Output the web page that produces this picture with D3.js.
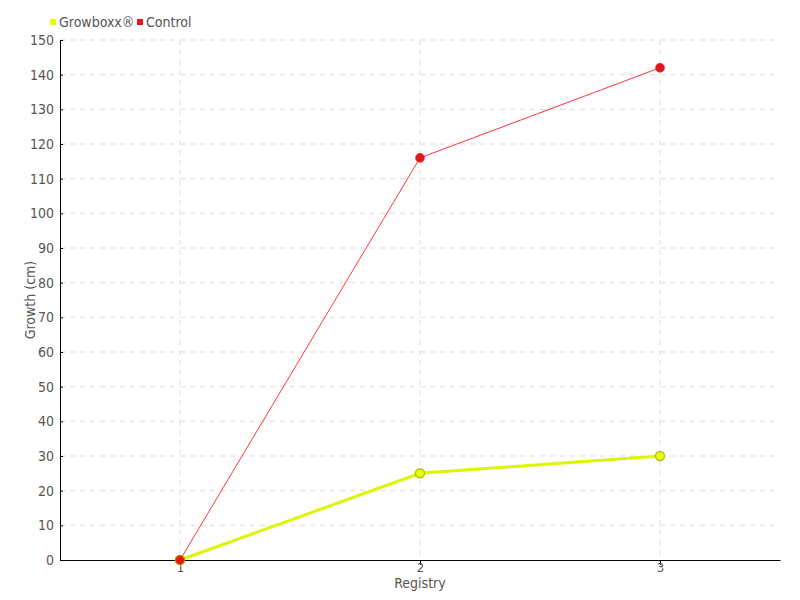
<html>
<script src='https://d3js.org/d3.v7.min.js'></script>
<style>
body {margin: 0; background: white;}
text {font-family: "DejaVu Sans Condensed", "Liberation Sans Narrow", sans-serif; fill: #555;}
.grid line {stroke: #ddd; stroke-dasharray: 5,5;}
.axis path, .axis line {stroke: black;}
.axis text {font-size: 14px; fill: #555;}
</style>
<body>
<svg width=800 height=600></svg>
<script>

// data
var registries = ["1", "2", "3"];
var growboxx = [0, 25, 30];
var control = [0, 116, 142];
var yTicks = d3.range(0, 151, 10);

var svg = d3.select("svg");
var plotLeft = 60, plotRight = 780, plotTop = 40, plotBottom = 560;

var x = d3.scalePoint()
    .domain(registries)
    .range([plotLeft, plotRight])
    .padding(0.5);

var y = d3.scaleLinear()
    .domain([0, 150])
    .range([plotBottom, plotTop]);

// grid
var grid = svg.append("g").attr("class", "grid");
grid.selectAll(".h").data(yTicks.slice(1)).enter().append("line")
    .attr("x1", plotLeft).attr("x2", plotRight)
    .attr("y1", d => y(d)).attr("y2", d => y(d));
grid.selectAll(".v").data(registries).enter().append("line")
    .attr("x1", d => x(d)).attr("x2", d => x(d))
    .attr("y1", plotTop).attr("y2", plotBottom);

// axes
svg.append("g")
    .attr("class", "axis")
    .attr("transform", "translate(0," + plotBottom + ")")
    .call(d3.axisBottom(x).tickSize(5).tickSizeOuter(0).tickPadding(0))
    .call(g => g.selectAll("text").attr("dy", "0.5em").style("font-size", "13px"));

svg.append("g")
    .attr("class", "axis")
    .attr("transform", "translate(" + plotLeft + ",0)")
    .call(d3.axisLeft(y).tickValues(yTicks).tickSize(3).tickSizeOuter(0).tickPadding(3))
    .call(g => g.selectAll(".tick line").attr("x2", 3));

// axis labels
svg.append("text")
    .text("Registry")
    .attr("x", x("2"))
    .attr("y", 588)
    .attr("text-anchor", "middle")
    .style("font-size", "14px");

svg.append("text")
    .text("Growth (cm)")
    .attr("transform", "translate(35," + ((plotTop + plotBottom) / 2) + ") rotate(-90)")
    .attr("text-anchor", "middle")
    .style("font-size", "14px");

// lines
var line = d3.line()
    .x((d, i) => x(registries[i]))
    .y(d => y(d));

svg.append("path")
    .datum(control)
    .attr("fill", "none")
    .attr("stroke", "#ff3344")
    .attr("stroke-width", 1)
    .attr("d", line);

svg.append("path")
    .datum(growboxx)
    .attr("fill", "none")
    .attr("stroke", "#ddf500")
    .attr("stroke-width", 3)
    .attr("d", line);

// markers
svg.append("g").selectAll("circle")
    .data(growboxx).enter().append("circle")
    .attr("cx", (d, i) => x(registries[i]))
    .attr("cy", d => y(d))
    .attr("r", 4.5)
    .attr("fill", "#e6ff14")
    .attr("stroke", "#b5c400")
    .attr("stroke-width", 1.5);

svg.append("g").selectAll("circle")
    .data(control).enter().append("circle")
    .attr("cx", (d, i) => x(registries[i]))
    .attr("cy", d => y(d))
    .attr("r", 4.5)
    .attr("fill", "#e4141e")
    .attr("stroke", "#d0202a")
    .attr("stroke-width", 0.5);

// first point: control sits on top with olive edge
svg.append("circle")
    .attr("cx", x(registries[0]))
    .attr("cy", y(control[0]))
    .attr("r", 4.5)
    .attr("fill", "#ee1111")
    .attr("stroke", "#a0a000")
    .attr("stroke-width", 1);

// legend
var legend = [["Growboxx®", "#e6ff00"], ["Control", "#ee1122"]];
var lx = [50, 137];
legend.forEach(function(l, i) {
    svg.append("rect")
        .attr("x", lx[i]).attr("y", 19)
        .attr("width", 6).attr("height", 6)
        .attr("fill", l[1]);
    svg.append("text")
        .text(l[0])
        .attr("x", lx[i] + 9)
        .attr("y", 27)
        .style("font-size", "14px");
});

</script>
</body>
</html>
